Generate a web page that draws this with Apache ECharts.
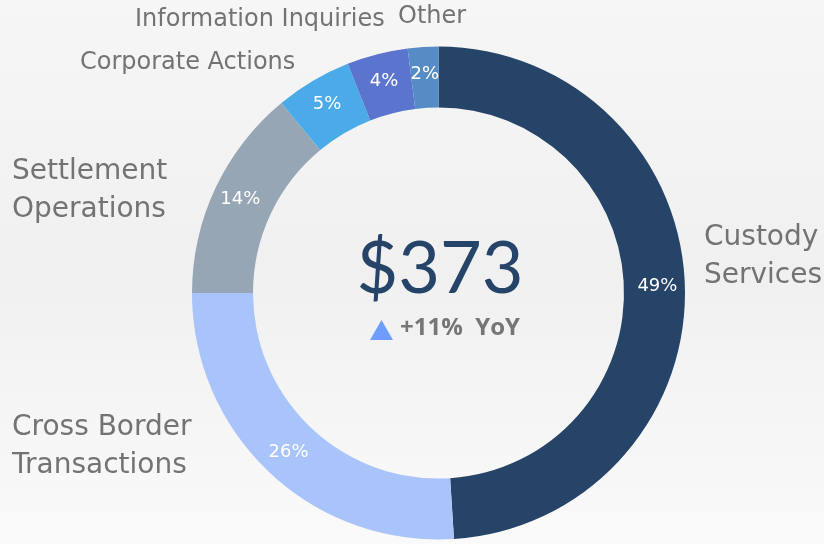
<!DOCTYPE html>
<html>
<head>
<meta charset="utf-8">
<script src="https://cdn.jsdelivr.net/npm/echarts@6/dist/echarts.min.js"></script>
<style>
  html, body { margin: 0; padding: 0; }
  #chart { width: 824px; height: 544px; }
</style>
</head>
<body>
<div id="chart"></div>
<script>
// segment data, clockwise from 12 o'clock
const categories = ['Custody Services', 'Cross Border Transactions', 'Settlement Operations',
  'Corporate Actions', 'Information Inquiries', 'Other'];
const labelText = ['Custody\nServices', 'Cross Border\nTransactions', 'Settlement\nOperations',
  'Corporate Actions', 'Information Inquiries', 'Other'];
const shares = [49, 26, 14, 5, 4, 2];
const colors = ['#264468', '#a9c3fb', '#97a6b5', '#4aabe8', '#5b74ce', '#568cc6'];
const totalText = '$373';
const changeText = '+11%  YoY';

// where the outside names sit: [left x, middle y, font size]
const namePos = [
  [704, 257, 28],
  [12, 447, 28],
  [12, 191, 28],
  [80, 63, 24],
  [135, 20, 24],
  [398, 17, 24]
];

const chart = echarts.init(document.getElementById('chart'));

const pieData = categories.map((name, i) => ({
  name: name,
  value: shares[i],
  itemStyle: { color: colors[i] }
}));

chart.setOption({
  backgroundColor: {
    type: 'linear', x: 0, y: 0, x2: 0, y2: 1,
    colorStops: [
      { offset: 0, color: '#f6f6f6' },
      { offset: 0.5, color: '#f0f0f0' },
      { offset: 1, color: '#fafafa' }
    ]
  },
  animation: false,
  series: [
    {
      type: 'pie',
      center: [438.5, 293],
      radius: [185.5, 246.5],
      startAngle: 90,
      clockwise: true,
      avoidLabelOverlap: false,
      silent: true,
      itemStyle: { borderWidth: 0 },
      label: {
        show: true,
        position: 'inside',
        formatter: p => p.value + '%',
        color: '#ffffff',
        fontFamily: 'DejaVu Sans',
        fontSize: 18
      },
      labelLine: { show: false },
      data: pieData
    },
    {
      type: 'pie',
      center: [438.5, 293],
      radius: [185.5, 246.5],
      startAngle: 90,
      clockwise: true,
      avoidLabelOverlap: false,
      silent: true,
      itemStyle: { color: 'rgba(0,0,0,0)' },
      label: {
        show: true,
        position: 'outside',
        formatter: p => labelText[p.dataIndex],
        color: '#737373',
        fontFamily: 'DejaVu Sans',
        lineHeight: 38
      },
      labelLine: { show: false },
      labelLayout: p => ({
        x: namePos[p.dataIndex][0],
        y: namePos[p.dataIndex][1],
        fontSize: namePos[p.dataIndex][2],
        align: 'left',
        verticalAlign: 'middle'
      }),
      data: categories.map((name, i) => ({ name: name, value: shares[i] }))
    }
  ],
  graphic: [
    {
      type: 'text',
      x: 440,
      y: 234,
      style: {
        text: totalText,
        fill: '#264468',
        font: '72px Lato',
        textAlign: 'center'
      }
    },
    {
      type: 'polygon',
      shape: { points: [[381.5, 320], [370, 340], [393, 340]] },
      style: { fill: '#6f9cff' }
    },
    {
      type: 'text',
      x: 400,
      y: 316,
      style: {
        text: changeText,
        fill: '#767676',
        font: 'bold 24px "Open Sans"'
      }
    }
  ]
});
</script>
</body>
</html>
